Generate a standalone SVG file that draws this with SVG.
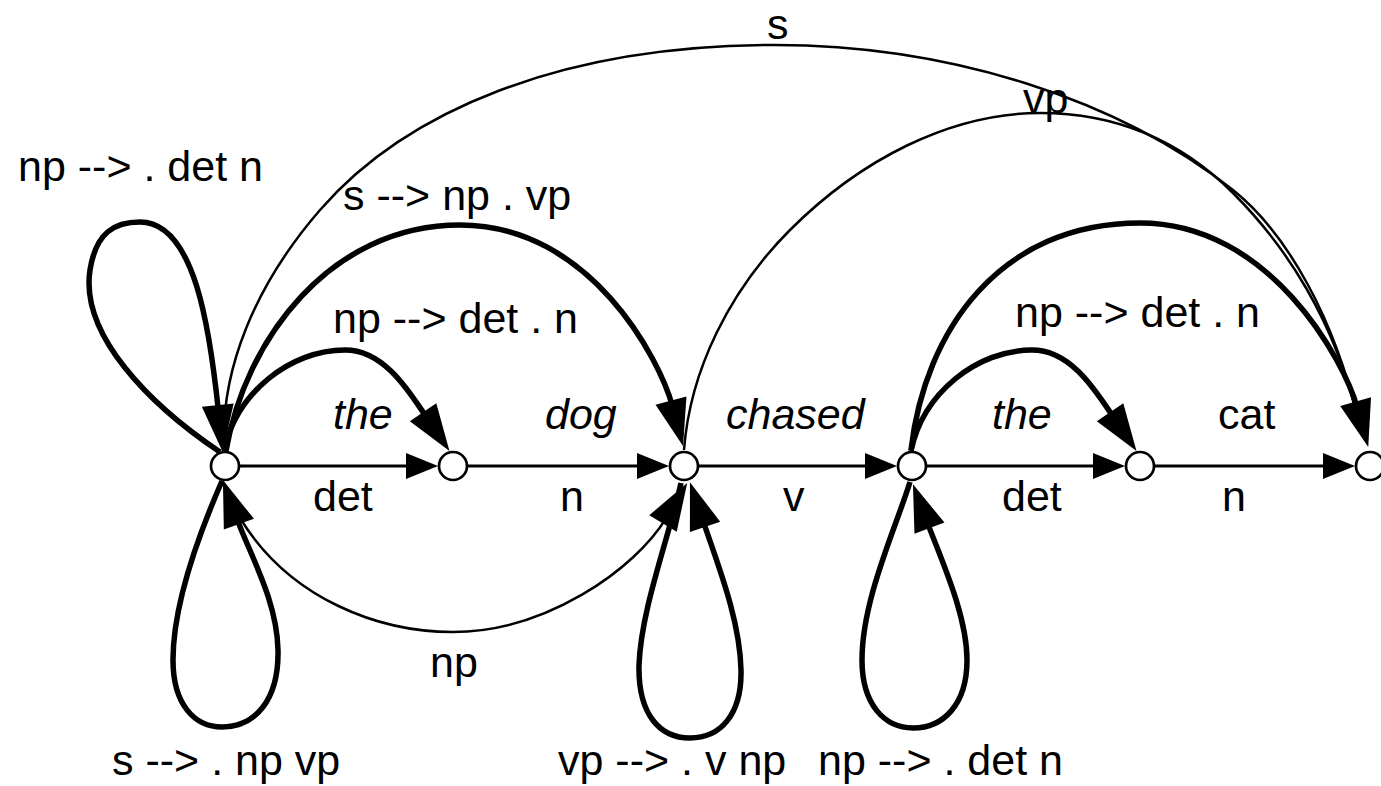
<svg xmlns="http://www.w3.org/2000/svg" width="1381" height="786" viewBox="0 0 1381 786">
<style>
text { font-family: "Liberation Sans", Arial, sans-serif; font-size: 43px; fill: #000; }
.it { font-style: italic; }
.node circle { fill: #fff; stroke: #000; stroke-width: 2.7; }
.h { fill: none; stroke: #000; stroke-width: 3; marker-end: url(#ah); }
.thick { fill: none; stroke: #000; stroke-width: 5.5; stroke-linejoin: round; }
.thin { fill: none; stroke: #000; stroke-width: 2.5; }
.arr { marker-end: url(#big); }
</style>
<defs>
<marker id="ah" markerUnits="userSpaceOnUse" markerWidth="40" markerHeight="30" viewBox="0 -15 40 30" refX="12" refY="0" orient="auto" overflow="visible"><path d="M0,-13 L32,0 L0,13 z" fill="#000"/></marker>
<marker id="big" markerUnits="userSpaceOnUse" markerWidth="50" markerHeight="36" viewBox="0 -18 50 36" refX="7" refY="0" orient="auto" overflow="visible"><path d="M0,-16 L47,0 L0,16 z" fill="#000"/></marker>
</defs>
<g id="connectors">
<path class="h" d="M240,466 L418,466"/>
<path class="h" d="M468,466 L649,466"/>
<path class="h" d="M699,466 L877,466"/>
<path class="h" d="M927,466 L1105,466"/>
<path class="h" d="M1155,466 L1335,466"/>
<path class="thin" d="M224,451 C220,370 255,285 320,210 C405,112 560,45 775,45 C950,45 1120,100 1233,190 C1288,234 1335,320 1358,420"/>
<path class="thin" d="M684,450 C690,370 730,290 790,230 C860,160 950,113 1040,113 C1130,113 1190,150 1233,193 C1285,245 1335,320 1358,420"/>
<path class="thin arr" d="M240,518 C290,600 380,632 453,632 C545,632 635,570 666.6,517.4"/>
<path class="thick arr" d="M224,451 C236,393 290,350 345,350 C385,350 410,393 427,418"/>
<path class="thick arr" d="M911,451 C923,393 977,350 1032,350 C1072,350 1097,393 1114,418"/>
<path class="thick arr" d="M226,451 C245,340 330,225 460,225 C590,225 660,359 672.8,407.4"/>
<path class="thick arr" d="M911,450 C925,330 1000,223 1140,223 C1270,223 1344,360 1357.5,408.4"/>
<path class="thick arr" d="M220,452 C150,405 80,335 90,270 C96,232 115,222 140,222 C195,222 210,330 218.5,412"/>
<path class="thick arr" d="M222,481 C205,520 173,600 173,660 C173,705 195,727 222,727 C255,727 279,700 278,650 C277,600 250,555 236.5,517.6"/>
<path class="thick arr" d="M681,483 C668,540 641,610 639,665 C638,715 660,738 690,738 C720,738 742,715 741,670 C740,620 718,565 702.8,520.2"/>
<path class="thick arr" d="M910,482 C895,530 862,600 862,660 C862,705 885,728 913,728 C943,728 967,705 967,660 C967,615 941,559 927,521.6"/>
</g>
<g id="n0" class="node"><circle cx="225" cy="466" r="14"/></g>
<g id="n1" class="node"><circle cx="453" cy="466" r="14"/></g>
<g id="n2" class="node"><circle cx="684" cy="466" r="14"/></g>
<g id="n3" class="node"><circle cx="912" cy="466" r="14"/></g>
<g id="n4" class="node"><circle cx="1140" cy="466" r="14"/></g>
<g id="n5" class="node"><circle cx="1370" cy="466" r="14"/></g>
<g id="labels">
<text x="18" y="181">np --&gt; . det n</text>
<text x="343" y="210">s --&gt; np . vp</text>
<text x="333" y="333">np --&gt; det . n</text>
<text x="1015" y="327">np --&gt; det . n</text>
<text x="767" y="39">s</text>
<text x="1023" y="113">vp</text>
<text class="it" x="333" y="429">the</text>
<text class="it" x="545" y="429">dog</text>
<text class="it" x="726" y="429">chased</text>
<text class="it" x="992" y="429">the</text>
<text x="1218" y="429">cat</text>
<text x="313" y="511">det</text>
<text x="560" y="511">n</text>
<text x="783" y="511">v</text>
<text x="1002" y="511">det</text>
<text x="1222" y="511">n</text>
<text x="430" y="677">np</text>
<text x="112" y="775">s --&gt; . np vp</text>
<text x="558" y="775">vp --&gt; . v np</text>
<text x="818" y="775">np --&gt; . det n</text>
</g>
</svg>
